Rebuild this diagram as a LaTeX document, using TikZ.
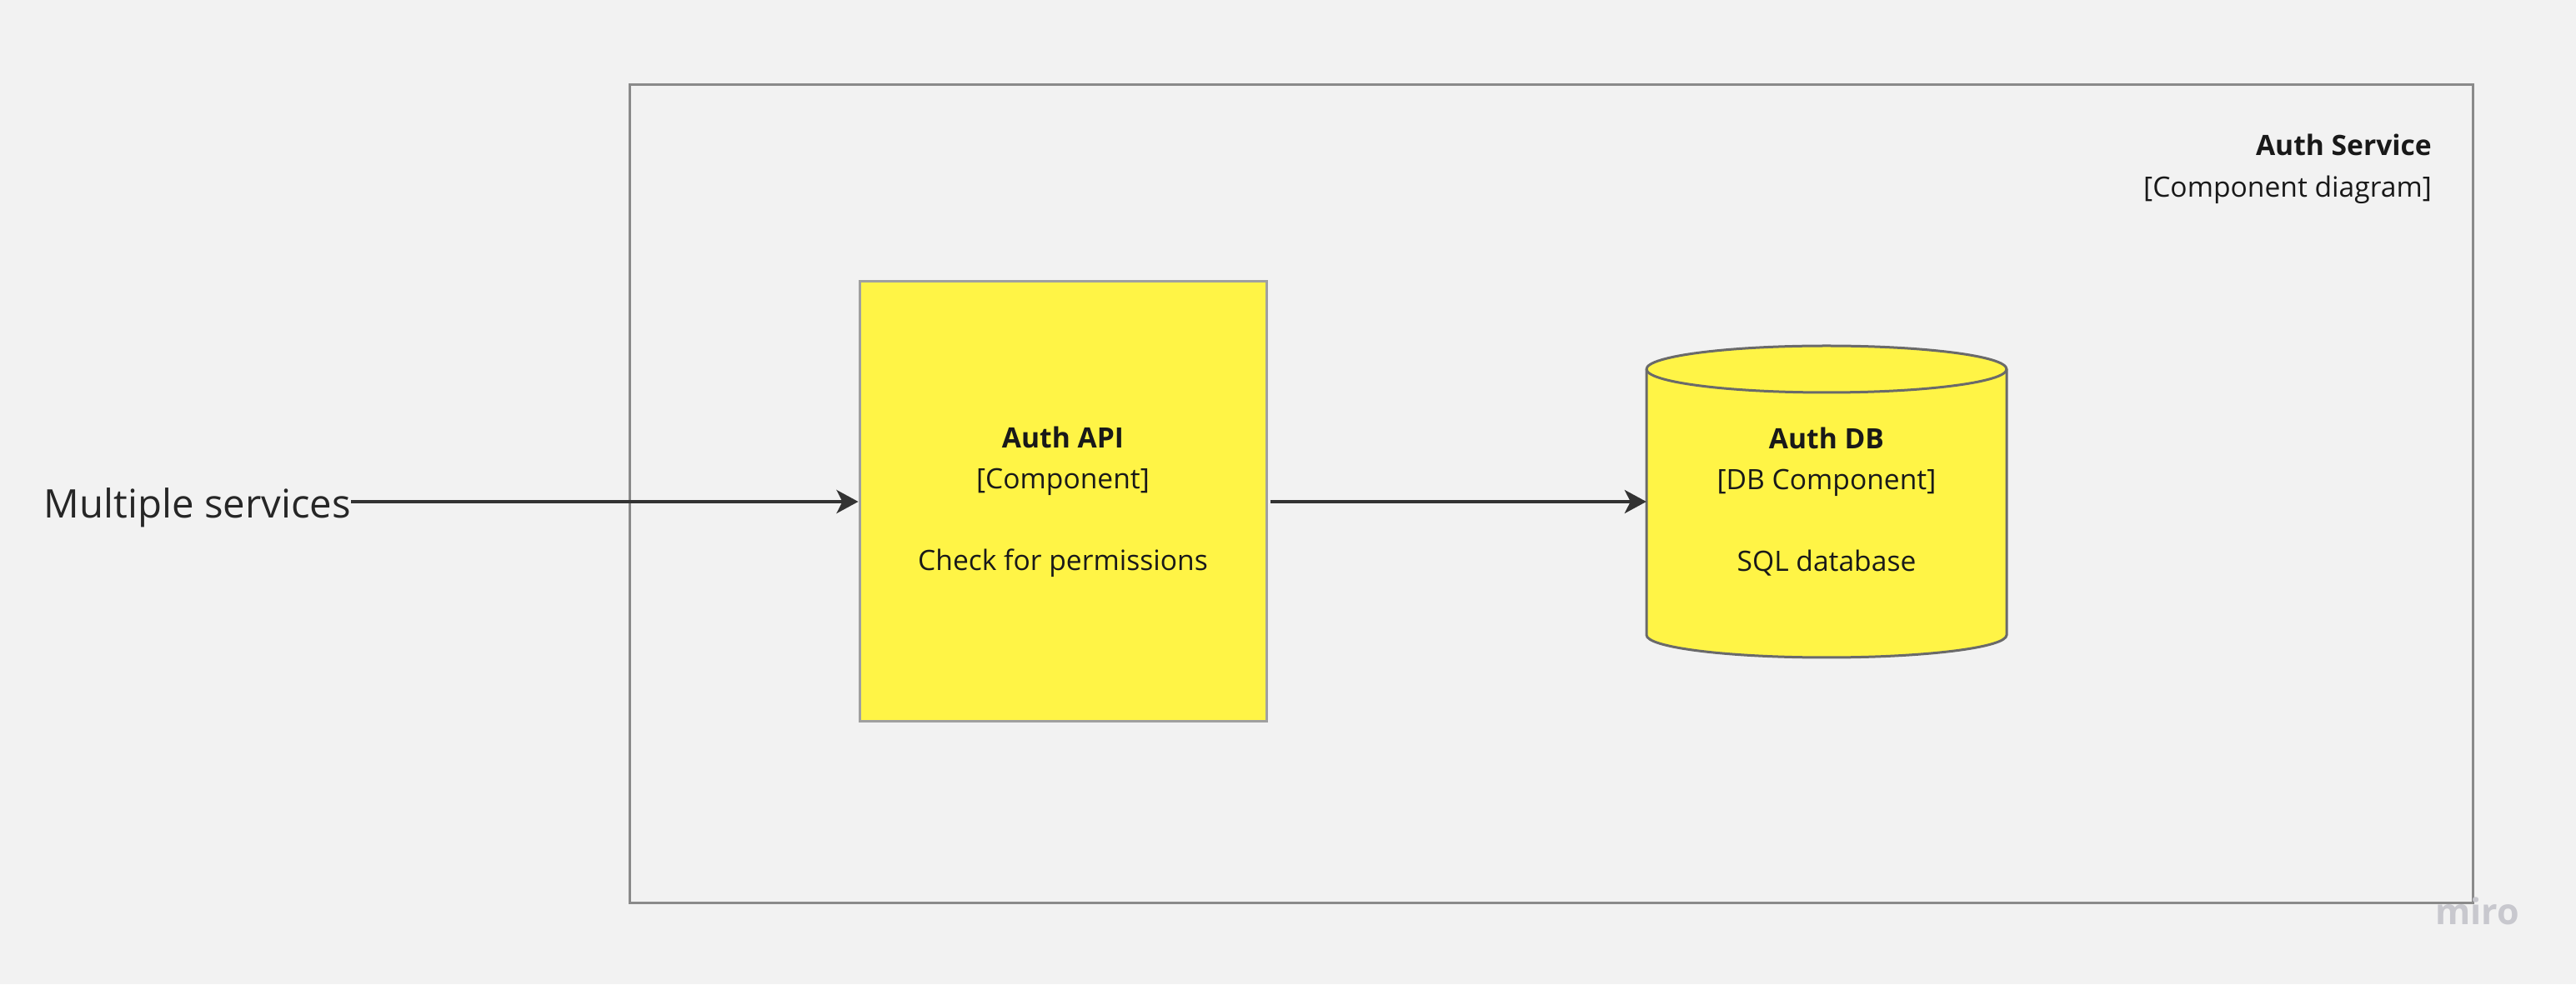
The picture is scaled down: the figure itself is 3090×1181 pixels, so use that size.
\documentclass[tikz,border=0pt]{standalone}
\usepackage{fontspec}
\setmainfont{Open Sans}
\usetikzlibrary{arrows.meta}
\definecolor{bg}{HTML}{F2F2F2}
\definecolor{stickyyellow}{HTML}{FFF446}
\definecolor{framegray}{HTML}{8A8A8A}
\definecolor{boxgray}{HTML}{A0A0A0}
\definecolor{cylgray}{HTML}{6A6A6A}
\definecolor{linedark}{HTML}{333333}
\definecolor{wmgray}{HTML}{C8C8CE}
\tikzset{
  boxtext/.style={font=\fontsize{33.6}{49}\selectfont, align=center, text=black!90},
  compbox/.style={draw=boxgray, line width=3pt, fill=stickyyellow, minimum width=488pt, minimum height=528pt, inner sep=0pt},
  connector/.style={draw=linedark, line width=3.8pt, -{Stealth[length=26pt,width=28pt,inset=7pt]}},
}
\begin{document}
\begin{tikzpicture}[x=1pt,y=1pt]
  % background / bounding box
  \fill[bg] (0,0) rectangle (3090,1181);
  \useasboundingbox (0,0) rectangle (3090,1181);
  % frame
  \node[draw=framegray, line width=3pt, minimum width=2211pt, minimum height=982pt, inner sep=0pt] (frame) at (1860.5,588) {};
  % title (base anchor = baseline of the last line)
  \node[anchor=base east, inner sep=0pt, font=\fontsize{33.6}{50}\selectfont, align=right, text=black!90] (title) at (2917,944)
    {\textbf{Auth Service}\\{[Component diagram]}};
  % Auth API box
  \node[compbox, boxtext] (api) at (1275,579)
    {\textbf{Auth API}\\{[Component]}\\[49pt]Check for permissions};
  % Auth DB cylinder
  \node[minimum width=432pt, minimum height=375pt, inner sep=0pt] (db) at (2191,579) {};
  \filldraw[fill=stickyyellow, draw=cylgray, line width=3pt]
    (1975,738) -- (1975,419) arc[start angle=180, end angle=360, x radius=216, y radius=27]
    -- (2407,738) arc[start angle=0, end angle=180, x radius=216, y radius=28] -- cycle;
  \draw[cylgray, line width=3pt] (1975,738) arc[start angle=180, end angle=360, x radius=216, y radius=28];
  \node[boxtext] (dbtext) at (db.center)
    {\textbf{Auth DB}\\{[DB Component]}\\[49pt]SQL database};
  % external label
  \node[anchor=base east, inner sep=0pt, font=\fontsize{47.3}{58}\selectfont, text=black!85] (ms) at (421,559) {Multiple services};
  % connectors
  \draw[connector] (ms.east |- api.west) -- (api.west);
  \draw[connector] ([xshift=3pt]api.east) -- (db.west);
  % watermark
  \node[anchor=base west, inner sep=0pt, font=\fontsize{43}{50}\selectfont\bfseries, text=wmgray] (wm) at (2921,71) {miro};
\end{tikzpicture}
\end{document}
